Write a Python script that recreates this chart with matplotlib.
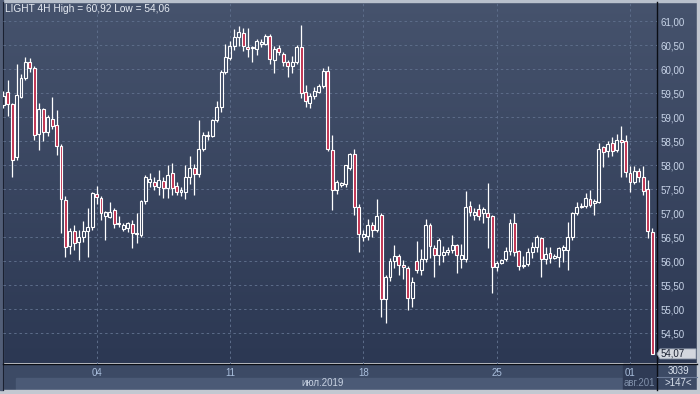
import matplotlib
matplotlib.use("Agg")
import matplotlib.pyplot as plt
import numpy as np
from matplotlib.patches import Rectangle, Polygon
from matplotlib.colors import LinearSegmentedColormap

# ---------------- data (LIGHT 4H) ----------------
opens = [59.25, 59.52, 59.28, 58.17, 59.43, 59.82, 60.15, 60.03, 58.64, 59.17,
         58.69, 58.97, 58.84, 58.40, 57.28, 56.32, 56.62, 56.41, 56.51, 56.62,
         56.72, 57.40, 57.31, 56.95, 56.93, 57.07, 56.80, 56.67, 56.69, 56.77,
         56.59, 56.55, 57.26, 57.65, 57.66, 57.55, 57.68, 57.52, 57.83, 57.56,
         57.45, 57.44, 57.76, 57.94, 57.82, 58.33, 58.63, 58.60, 58.95, 59.21,
         59.94, 60.23, 60.48, 60.67, 60.76, 60.47, 60.44, 60.42, 60.53, 60.53,
         60.70, 60.19, 60.44, 60.32, 60.16, 60.06, 60.16, 60.46, 59.52, 59.30,
         59.44, 59.53, 59.64, 59.96, 58.32, 57.48, 57.58, 57.60, 57.95, 58.24,
         57.14, 56.50, 56.53, 56.76, 56.65, 56.96, 55.22, 55.68, 56.00, 56.11,
         55.92, 55.86, 55.24, 56.00, 55.82, 56.04, 56.76, 56.28, 56.13, 56.13,
         56.20, 56.24, 56.33, 56.05, 56.04, 57.15, 56.97, 57.08, 57.00, 57.00,
         56.94, 55.87, 55.97, 56.04, 56.21, 56.80, 56.21, 55.90, 55.95, 56.20,
         56.30, 56.48, 56.04, 56.17, 56.07, 56.08, 56.24, 56.24, 56.50, 57.01,
         57.13, 57.15, 57.30, 57.21, 57.24, 58.37, 58.29, 58.46, 58.31, 58.53,
         58.50, 57.83, 57.66, 57.87, 57.75, 57.50, 56.60]
highs = [59.55, 59.78, 59.30, 60.10, 59.90, 60.26, 60.23, 60.06, 59.30, 59.20,
         59.05, 59.42, 59.16, 58.45, 57.36, 56.69, 56.76, 56.65, 56.83, 57.10,
         57.45, 57.56, 57.35, 57.05, 57.24, 57.10, 56.94, 56.80, 56.82, 56.86,
         57.00, 57.28, 57.80, 57.83, 57.76, 57.90, 57.75, 58.00, 58.04, 57.66,
         57.55, 58.00, 58.20, 58.03, 58.95, 58.70, 58.72, 58.97, 59.33, 59.99,
         60.53, 60.58, 60.83, 60.90, 60.86, 60.85, 60.48, 60.62, 60.62, 60.74,
         60.74, 60.48, 60.51, 60.35, 60.20, 60.27, 60.51, 60.92, 59.68, 59.50,
         59.63, 59.70, 60.03, 60.06, 58.63, 57.70, 57.65, 58.00, 58.26, 58.34,
         57.20, 56.65, 56.88, 56.82, 57.29, 57.00, 55.71, 56.06, 56.34, 56.16,
         56.02, 55.90, 55.68, 56.42, 56.25, 56.88, 56.79, 56.34, 56.48, 56.32,
         56.30, 56.55, 56.36, 56.36, 57.47, 57.26, 57.10, 57.20, 57.13, 57.62,
         56.96, 56.00, 56.04, 56.30, 56.89, 57.00, 56.23, 56.10, 56.27, 56.41,
         56.55, 56.51, 56.30, 56.30, 56.15, 56.30, 56.34, 56.82, 57.03, 57.24,
         57.22, 57.42, 57.49, 57.30, 58.46, 58.41, 58.50, 58.59, 58.64, 58.81,
         58.63, 57.99, 57.98, 57.94, 57.98, 57.69, 56.70]
lows = [59.20, 59.02, 57.75, 58.10, 59.40, 59.78, 59.95, 58.53, 58.32, 58.50,
        58.60, 58.75, 58.22, 56.58, 56.08, 56.15, 56.23, 56.02, 56.40, 56.09,
        56.65, 57.20, 56.86, 56.44, 56.90, 56.69, 56.72, 56.62, 56.60, 56.28,
        56.37, 56.50, 57.20, 57.55, 57.48, 57.38, 57.32, 57.32, 57.38, 57.38,
        57.35, 57.29, 57.60, 57.38, 57.76, 58.30, 58.53, 58.58, 58.90, 59.10,
        59.90, 60.20, 60.40, 60.48, 60.37, 60.26, 60.14, 60.30, 60.46, 60.50,
        60.10, 59.92, 60.30, 60.06, 59.83, 59.92, 60.10, 59.40, 59.21, 59.20,
        59.37, 59.50, 59.60, 58.30, 57.06, 57.40, 57.55, 57.55, 57.90, 56.96,
        56.20, 56.43, 56.45, 56.50, 56.60, 54.84, 54.72, 55.59, 55.85, 55.71,
        55.62, 54.99, 55.04, 55.75, 55.71, 55.99, 56.06, 55.68, 55.92, 55.99,
        56.13, 56.17, 55.75, 55.85, 55.99, 56.95, 56.86, 56.86, 56.79, 56.27,
        55.33, 55.80, 55.95, 56.00, 56.13, 56.10, 55.82, 55.85, 55.90, 56.06,
        56.20, 55.68, 55.95, 55.97, 56.05, 55.89, 55.99, 55.82, 56.45, 56.97,
        57.10, 57.10, 57.13, 56.96, 57.22, 57.97, 58.18, 58.20, 58.28, 57.75,
        57.76, 57.44, 57.60, 57.65, 57.38, 56.48, 54.06]
closes = [59.45, 59.28, 58.10, 59.47, 59.82, 60.16, 60.03, 58.63, 59.17, 58.69,
          59.00, 58.82, 58.40, 57.29, 56.30, 56.62, 56.39, 56.50, 56.62, 56.71,
          57.42, 57.33, 57.01, 57.02, 57.03, 56.78, 56.77, 56.75, 56.79, 56.58,
          56.56, 57.26, 57.75, 57.72, 57.56, 57.69, 57.52, 57.80, 57.52, 57.45,
          57.48, 57.76, 57.94, 57.82, 58.33, 58.63, 58.60, 58.95, 59.21, 59.94,
          60.26, 60.48, 60.67, 60.77, 60.49, 60.42, 60.45, 60.58, 60.56, 60.69,
          60.21, 60.42, 60.35, 60.16, 60.06, 60.16, 60.46, 59.50, 59.33, 59.45,
          59.54, 59.64, 59.96, 58.33, 57.48, 57.64, 57.62, 58.00, 58.24, 57.14,
          56.57, 56.57, 56.76, 56.65, 56.94, 55.22, 55.68, 56.00, 56.11, 55.92,
          55.87, 55.24, 55.57, 55.82, 56.04, 56.76, 56.31, 56.13, 56.45, 56.20,
          56.24, 56.33, 56.12, 56.12, 57.14, 57.02, 57.02, 56.95, 57.08, 56.92,
          55.87, 55.97, 56.02, 56.21, 56.80, 56.20, 55.90, 55.92, 56.20, 56.30,
          56.50, 56.04, 56.15, 56.06, 56.10, 56.27, 56.29, 56.50, 57.00, 57.14,
          57.15, 57.31, 57.18, 57.26, 58.33, 58.28, 58.45, 58.29, 58.53, 58.48,
          57.85, 57.66, 57.87, 57.75, 57.47, 56.62, 54.07]

date_labels = ["04", "11", "18", "25", "01"]
date_candle_index = [21, 51, 81, 111, 141]
price_ticks = [54.5, 55.0, 55.5, 56.0, 56.5, 57.0, 57.5, 58.0, 58.5, 59.0, 59.5, 60.0, 60.5, 61.0]
title_text = "LIGHT 4H High = 60,92 Low = 54,06"
month_label = "июл.2019"
next_month_label = "авг.201"
last_price_label = "54,07"
corner_top = "3039"
corner_bottom = ">147<"

# ---------------- style ----------------
plt.rcParams['font.family'] = ['Liberation Sans', 'DejaVu Sans']
W, H = 700, 394
fig = plt.figure(figsize=(W / 100, H / 100), dpi=100)

# background axes in pixel coordinates
bg = fig.add_axes([0, 0, 1, 1])
bg.set_xlim(0, W)
bg.set_ylim(H, 0)
bg.axis('off')
cmap = LinearSegmentedColormap.from_list('bg', ['#46536d', '#2c3853'])
grad = np.linspace(0, 1, 256).reshape(-1, 1)
bg.imshow(grad, cmap=cmap, aspect='auto', extent=(0, W, 363.5, 0), zorder=0)
# date band
bg.add_patch(Rectangle((0, 363.5), W, 14, color='#3c4a65', zorder=1))
bg.add_patch(Rectangle((0, 377.5), W, 12.5, color='#3c4a65', zorder=1))
bg.add_patch(Rectangle((16, 377.5), 641, 12.5, color='#4b5a76', zorder=1))
# dark box for the next month
bg.add_patch(Rectangle((622.5, 363.5), 34, 26.5, color='#2f3b55', zorder=2))
# outer light frame
bg.add_patch(Rectangle((0, 390), W, 4, color='#c3c8d1', zorder=3))
bg.add_patch(Rectangle((0, 0), W, 1.5, color='#b8c0cc', zorder=3))
bg.add_patch(Rectangle((697, 0), 3, H, color='#c3c8d1', zorder=3))
bg.add_patch(Rectangle((0, 0), 3, 390, color='#525e77', zorder=3))
# frame lines
bg.plot([3.3, 3.3], [1.5, 390], color='#1a2030', lw=0.8, zorder=4)
bg.plot([656.7, 656.7], [1.5, 390], color='#0a0d14', lw=1.0, zorder=4)
bg.plot([3.3, 697], [363.5, 363.5], color='#0a0d14', lw=1.0, zorder=4)
bg.plot([657, 697], [377.3, 377.3], color='#6b7a96', lw=0.8, zorder=4)
# month labels
bg.text(323, 383.5, month_label, color='#c8d2e2', fontsize=7, ha='center', va='center', zorder=5)
bg.text(624, 383.5, next_month_label, color='#8090aa', fontsize=7, ha='left', va='center', zorder=5,
        clip_on=True).set_clip_path(Rectangle((622.5, 363.5), 34, 26.5, transform=bg.transData))
bg.text(678, 370.5, corner_top, color='#d8e0ec', fontsize=7, ha='center', va='center', zorder=5)
bg.text(678, 383.5, corner_bottom, color='#d8e0ec', fontsize=7, ha='center', va='center', zorder=5)
bg.text(5, 8.5, title_text, color='#e6ebf3', fontsize=7.3, ha='left', va='center', zorder=5)

# ---------------- main chart ----------------
ax_left, ax_right, ax_top, ax_bottom = 3.3, 656.7, 1.5, 363.5
ax = fig.add_axes([ax_left / W, (H - ax_bottom) / H, (ax_right - ax_left) / W, (ax_bottom - ax_top) / H])
ax.set_facecolor('none')
for s in ax.spines.values():
    s.set_visible(False)

n = len(opens)
x = np.arange(n)
o = np.array(opens); h = np.array(highs); l = np.array(lows); c = np.array(closes)
top = np.maximum(o, c)
bot = np.minimum(o, c)
body = np.maximum(top - bot, 0.012)
up = c >= o

# wicks (drawn outside the body only)
ax.vlines(x, top, h, color='white', lw=0.9, zorder=3)
ax.vlines(x, l, bot, color='white', lw=0.9, zorder=3)
fills = np.where(up, 'none', '#c0304f')
for xi, b, hh, f in zip(x, bot, body, fills):
    ax.add_patch(Rectangle((xi - 0.33, b), 0.66, hh, facecolor=f, edgecolor='white', lw=0.8, zorder=4))

ax.set_xlim(0.02, 147.0)
ax.set_ylim(53.87, 61.41)

ax.set_yticks(price_ticks)
ax.set_yticklabels([f"{v:.2f}".replace('.', ',') for v in price_ticks])
ax.yaxis.tick_right()
ax.tick_params(axis='y', length=0, pad=2.5, labelsize=7, labelcolor='#c8d4e8')
ax.set_xticks(date_candle_index)
ax.set_xticklabels(date_labels)
ax.tick_params(axis='x', length=0, pad=3.5, labelsize=7, labelcolor='#a9bedc')
ax.grid(True, color='#5d6d8a', lw=0.7, linestyle=(0, (2.5, 3)), zorder=1)

# last price marker
lp = closes[-1]
ytrans = ax.transData.transform((0, lp))[1]
ypix = H - ytrans
poly = Polygon([(657, ypix), (660, ypix - 5), (696, ypix - 5), (696, ypix + 5), (660, ypix + 5)],
               closed=True, facecolor='#d3d7de', edgecolor='#9aa4b4', lw=0.6, zorder=6)
bg.add_patch(poly)
bg.text(661, ypix, last_price_label, color='#1c2333', fontsize=7, ha='left', va='center', zorder=7)

fig.savefig('out.png', dpi=100)
